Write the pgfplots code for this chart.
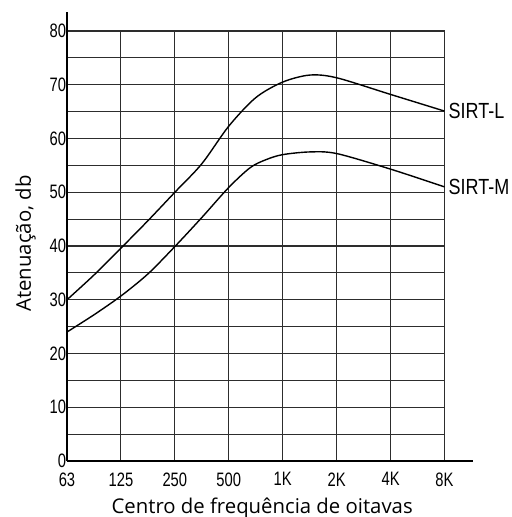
\documentclass[border=0pt]{standalone}
\usepackage{fontspec}
\setmainfont{Liberation Sans}
\newfontfamily\tickfont[FakeStretch=0.76]{Liberation Sans}
\newfontfamily\sirtfont[FakeStretch=0.82]{Liberation Sans}
\newfontfamily\labfont{Open Sans}
\usepackage{pgfplots}
\pgfplotsset{compat=1.18}
\definecolor{gridc}{RGB}{45,45,45}
\begin{document}
\begin{tikzpicture}
\useasboundingbox (-67bp,-56bp) rectangle (445bp,461bp);
\begin{axis}[
  at={(0,0)}, anchor=south west,
  scale only axis,
  width=377.5bp, height=430bp,
  xmin=0, xmax=7, ymin=0, ymax=80,
  axis lines*=left,
  axis line style={draw=none},
  xtick={0,1,2,3,4,5,6,7},
  xticklabels={63,125,250,500,1K,2K,4K,8K},
  ytick={0,10,20,30,40,50,60,70,80},
  minor ytick={5,15,25,35,45,55,65,75},
  grid=both,
  major grid style={line width=1.1bp, gridc},
  minor grid style={line width=1.1bp, gridc},
  major tick length=0pt, minor tick length=0pt,
  ticklabel style={font=\fontsize{19.5}{19.5}\tickfont},
  /pgf/number format/assume math mode=true,
  xticklabel style={yshift=-8bp},
  yticklabel style={xshift=2.5bp},
  xlabel={Centro de frequência de oitavas},
  ylabel={Atenuação, db},
  label style={font=\fontsize{20.4}{20.4}\labfont},
  xlabel style={at={(axis description cs:0.517,-0.11)}, anchor=center},
  ylabel style={at={(axis description cs:-0.11,0.506)}, anchor=center},
  clip=false,
]
\addplot[line width=1.4bp, black, smooth, tension=0.5] coordinates {
 (0,30) (0.5,34.6) (1,39.6) (1.5,44.7) (2,50) (2.5,55.3) (3,62.3) (3.5,67.6) (4,70.5) (4.5,71.8) (5,71.3) (6,68.2) (7,65.1)
};
\addplot[line width=1.4bp, black, smooth, tension=0.5] coordinates {
 (0,24) (0.5,27.2) (1,30.7) (1.5,34.8) (2,39.9) (2.5,45.3) (3,50.9) (3.4,54.6) (3.7,56.1) (4,57) (4.5,57.5) (5,57.2) (6,54.3) (7,51)
};
\draw[line width=1.2bp, black] (axis cs:0,0) -- (axis cs:7.53,0);
\draw[line width=1.2bp, black] (axis cs:0,0) -- (axis cs:0,83.5);
\node[anchor=west, font=\fontsize{22}{22}\sirtfont, inner sep=0pt, xshift=4bp] at (axis cs:7,65.1) {SIRT-L};
\node[anchor=west, font=\fontsize{22}{22}\sirtfont, inner sep=0pt, xshift=4bp] at (axis cs:7,51) {SIRT-M};
\end{axis}
\end{tikzpicture}
\end{document}
